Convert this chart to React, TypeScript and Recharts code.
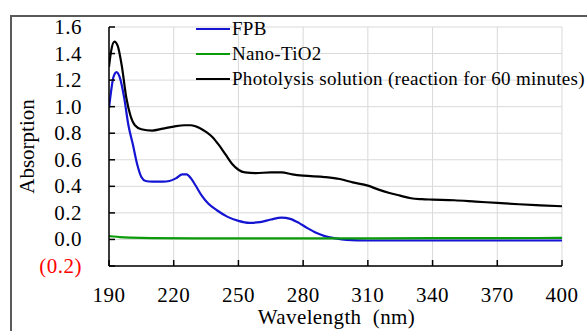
import React from "react";
import { LineChart, Line, XAxis, YAxis, CartesianGrid } from "recharts";

// wavelength (nm) / absorbance
const fpbNm = [190, 191, 192, 193.5, 195, 197, 199, 201, 203, 205, 207, 210, 215, 218, 221, 224, 226, 228, 230, 233, 236, 240, 245, 250, 255, 260, 265, 270, 274, 278, 282, 286, 290, 295, 300, 310, 330, 360, 400];
const fpbAbs = [0.99, 1.12, 1.22, 1.26, 1.22, 1.07, 0.86, 0.72, 0.57, 0.47, 0.44, 0.435, 0.435, 0.44, 0.46, 0.49, 0.49, 0.46, 0.41, 0.33, 0.27, 0.22, 0.17, 0.14, 0.125, 0.13, 0.15, 0.165, 0.155, 0.125, 0.085, 0.05, 0.025, 0.008, -0.003, -0.008, -0.008, -0.008, -0.008];

const tioNm = [190, 192, 195, 200, 210, 230, 260, 300, 340, 370, 400];
const tioAbs = [0.025, 0.022, 0.018, 0.014, 0.01, 0.008, 0.008, 0.008, 0.01, 0.01, 0.012];

const photoNm = [190, 191, 192.5, 194, 196, 198, 200, 202, 205, 210, 215, 220, 225, 228, 232, 235, 238, 241, 244, 247, 250, 253, 258, 265, 270, 275, 280, 290, 297, 303, 310, 315, 320, 325, 330, 335, 340, 350, 360, 370, 380, 390, 400];
const photoAbs = [1.3, 1.42, 1.49, 1.46, 1.3, 1.07, 0.93, 0.86, 0.83, 0.82, 0.835, 0.85, 0.86, 0.86, 0.84, 0.81, 0.77, 0.71, 0.64, 0.57, 0.525, 0.505, 0.5, 0.505, 0.505, 0.49, 0.48, 0.47, 0.455, 0.43, 0.405, 0.375, 0.35, 0.33, 0.31, 0.303, 0.3, 0.295, 0.285, 0.275, 0.265, 0.257, 0.25];

const xTicks = [190, 220, 250, 280, 310, 340, 370, 400];
const yTicks = [-0.2, 0, 0.2, 0.4, 0.6, 0.8, 1.0, 1.2, 1.4, 1.6];

const zip = (xs: number[], ys: number[]) => xs.map((x, i) => ({ nm: x, abs: ys[i] }));

const series = [
  { name: "FPB", color: "#1414d2", data: zip(fpbNm, fpbAbs) },
  { name: "Nano-TiO2", color: "#0a9a0a", data: zip(tioNm, tioAbs) },
  { name: "Photolysis solution (reaction for 60 minutes)", color: "#000000", data: zip(photoNm, photoAbs) },
];

const FONT = "'Liberation Serif', 'Times New Roman', Times, serif";

const XTick = (props: any) => {
  const { x, y, payload } = props;
  return (
    <text x={x} y={y} dy={15} textAnchor="middle" fontSize={21} fill="#000" fontFamily={FONT} letterSpacing={0.5}>
      {payload.value}
    </text>
  );
};

const YTick = (props: any) => {
  const { x, y, payload } = props;
  const v = Number(payload.value);
  const neg = v < 0;
  return (
    <text
      x={x}
      y={y}
      dy={7}
      textAnchor="end"
      fontSize={21}
      fill={neg ? "#ff0000" : "#000"}
      fontFamily={FONT}
      letterSpacing={0.5}
    >
      {neg ? `(${Math.abs(v).toFixed(1)})` : v.toFixed(1)}
    </text>
  );
};

export default function App() {
  return (
    <div
      style={{
        position: "absolute",
        left: 0,
        top: 0,
        width: 587,
        height: 331,
        overflow: "hidden",
        background: "#fff",
        fontFamily: FONT,
      }}
    >
      <div
        style={{
          position: "absolute",
          left: 10,
          top: 15,
          width: 620,
          height: 340,
          border: "2px solid #5a5a5a",
        }}
      />
      <div style={{ position: "absolute", left: 0, top: 0 }}>
        <LineChart
          width={587}
          height={331}
          margin={{ top: 27, right: 25, bottom: 5, left: 0 }}
        >
          <CartesianGrid stroke="#d9d9d9" strokeWidth={1} />
          <XAxis
            type="number"
            dataKey="nm"
            domain={[190, 400]}
            ticks={xTicks}
            allowDataOverflow
            height={60}
            axisLine={{ stroke: "#000", strokeWidth: 1.5 }}
            tickLine={{ stroke: "#000", strokeWidth: 1.5 }}
            tickSize={-6}
            tickMargin={27}
            tick={<XTick />}
            label={(lp: any) => {
              const vb = lp.viewBox || {};
              return (
                <text
                  x={vb.x + vb.width / 2 + 1}
                  y={vb.y + 58}
                  textAnchor="middle"
                  fontSize={21}
                  fill="#000"
                  fontFamily={FONT}
                  letterSpacing={0.4}
                  style={{ whiteSpace: "pre" }}
                >
                  {"Wavelength  (nm)"}
                </text>
              );
            }}
          />
          <YAxis
            type="number"
            domain={[-0.2, 1.6]}
            ticks={yTicks}
            allowDataOverflow
            width={109}
            axisLine={{ stroke: "#000", strokeWidth: 1.5 }}
            tickLine={{ stroke: "#000", strokeWidth: 1.5 }}
            tickSize={-6}
            tickMargin={33}
            tick={<YTick />}
            label={(lp: any) => {
              const vb = lp.viewBox || {};
              const cx = vb.x + 27;
              const cy = vb.y + vb.height / 2;
              return (
                <text
                  x={cx}
                  y={cy}
                  dy={7}
                  transform={`rotate(-90, ${cx}, ${cy})`}
                  textAnchor="middle"
                  fontSize={21}
                  fill="#000"
                  fontFamily={FONT}
                >
                  Absorption
                </text>
              );
            }}
          />
          {series.map((s) => (
            <Line
              key={s.name}
              data={s.data}
              dataKey="abs"
              name={s.name}
              type="monotone"
              stroke={s.color}
              strokeWidth={2.2}
              dot={false}
              isAnimationActive={false}
            />
          ))}
        </LineChart>
      </div>
      {/* legend sits over the plot area, as in the original */}
      <div style={{ position: "absolute", left: 196, top: 17, fontSize: 19, color: "#000", letterSpacing: 0.3 }}>
        {series.map((s, i) => (
          <div
            key={s.name}
            style={{
              position: "absolute",
              left: 0,
              top: i * 25,
              height: 24,
              display: "flex",
              alignItems: "center",
              whiteSpace: "nowrap",
            }}
          >
            <svg width={34} height={4} style={{ marginRight: 2, display: "block" }}>
              <line x1={0} y1={2} x2={34} y2={2} stroke={s.color} strokeWidth={2.2} />
            </svg>
            <span>{s.name}</span>
          </div>
        ))}
      </div>
    </div>
  );
}
